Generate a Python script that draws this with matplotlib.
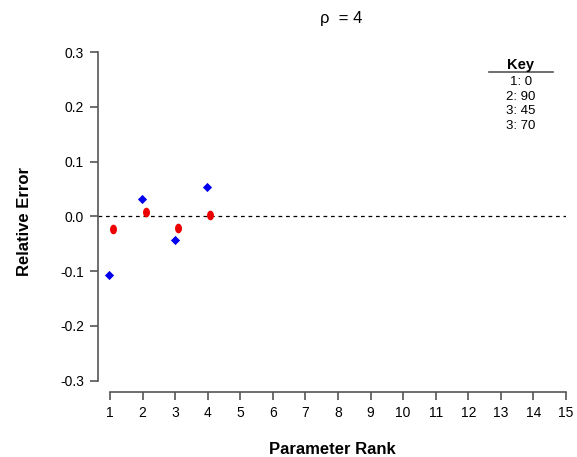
import numpy as np
import matplotlib.pyplot as plt
from matplotlib.path import Path

plt.rcParams['font.family'] = ['Liberation Sans', 'DejaVu Sans']

# data
blue_x = [0.97, 1.98, 2.99, 3.97]
blue_y = [-0.108, 0.031, -0.044, 0.053]
red_x = [1.09, 2.10, 3.08, 4.07]
red_y = [-0.024, 0.007, -0.022, 0.002]
key_lines = ['1: 0', '2: 90', '3: 45', '3: 70']
xticks = list(range(1, 16))
yticks = [-0.3, -0.2, -0.1, 0.0, 0.1, 0.2, 0.3]

W, H = 577, 457
fig = plt.figure(figsize=(W / 100, H / 100), dpi=100)
ax = fig.add_axes([98 / W, 1 - 392 / H, (566 - 98) / W, (392 - 52) / H])

# tall ellipse marker for red points
t = np.linspace(0, 2 * np.pi, 40)
ell = Path(np.column_stack([np.cos(t) * 0.72, np.sin(t)]))

ax.axhline(0, color='black', lw=0.9, ls=(0, (3, 3)))
ax.scatter(blue_x, blue_y, marker='D', s=22, color='#0000ee', zorder=3, lw=0)
ax.scatter(red_x, red_y, marker=ell, s=48, color='#ee0000', zorder=3, lw=0)

ax.set_xlim(0.632, 15)
ax.set_ylim(-0.321, 0.3)
ax.set_xticks(xticks)
ax.set_yticks(yticks)
ax.set_yticklabels(['-0.3', '-0.2', '-0.1', '0.0', '0.1', '0.2', '0.3'])
for s in ['top', 'right']:
    ax.spines[s].set_visible(False)
ax.spines['left'].set_bounds(-0.3, 0.3)
ax.spines['bottom'].set_bounds(1, 15)
for s in ['left', 'bottom']:
    ax.spines[s].set_color('#555555')
    ax.spines[s].set_linewidth(1.2)
ax.tick_params(length=6, width=1.2, color='#555555', labelsize=10, pad=4)

ax.set_xlabel('Parameter Rank', fontsize=12, fontweight='bold', labelpad=16)
ax.set_ylabel('Relative Error', fontsize=12, fontweight='bold', labelpad=20)

fig.text(341 / W, 1 - 18 / H, '\u03c1  = 4', ha='center', va='center', fontsize=12)

# key box
fig.text(521 / W, 1 - 65 / H, 'Key', ha='center', va='center', fontsize=10.5, fontweight='bold')
fig.add_artist(plt.Line2D([489 / W, 553 / W], [1 - 72 / H, 1 - 72 / H], color='#555555', lw=1.2))
for i, s in enumerate(key_lines):
    fig.text(521 / W, 1 - (82 + 14.5 * i) / H, s, ha='center', va='center', fontsize=9.5)

fig.savefig('out.png', dpi=100)
